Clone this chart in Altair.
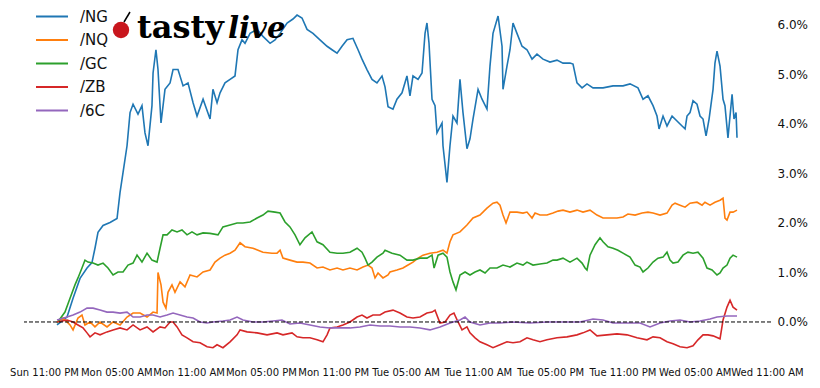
import altair as alt
import pandas as pd

series_names = ["/NG", "/NQ", "/GC", "/ZB", "/6C"]
series_colors = ["#1f77b4", "#ff7f0e", "#2ca02c", "#d62728", "#9467bd"]

# hours since Sun 11:00 PM, percent change
ng_h = [1.08,1.91,2.41,2.99,3.57,3.98,4.23,4.48,4.90,5.48,6.06,6.31,6.56,6.89,7.14,7.39,7.80,8.13,8.38,8.63,8.96,9.05,9.29,9.46,9.71,10.04,10.46,10.71,11.12,11.54,11.95,12.37,12.70,13.20,13.78,14.02,14.36,14.61,15.02,15.44,15.85,16.10,16.43,16.68,17.10,17.68,18.17,18.76,19.17,19.59,20.17,20.66,21.00,21.41,21.83,22.32,22.90,23.49,23.90,24.32,24.73,25.15,25.64,26.06,26.39,26.80,27.22,27.63,28.05,28.30,28.55,28.96,29.29,29.71,30.12,30.37,30.62,31.04,31.37,31.62,31.78,31.95,32.20,32.45,32.61,33.03,33.11,33.44,33.69,33.94,34.27,34.52,34.77,35.10,35.35,35.60,36.02,36.35,36.76,37.01,37.26,37.68,38.01,38.09,38.42,38.67,38.92,39.25,39.67,40.08,40.50,40.91,41.41,41.99,42.57,43.07,43.65,43.90,44.23,44.65,45.06,45.56,46.39,47.22,48.05,48.63,49.29,49.71,50.12,50.54,50.87,51.04,51.37,51.70,52.12,52.53,52.95,53.20,53.36,53.61,53.86,54.19,54.44,54.69,54.94,55.19,55.52,55.68,55.85,56.10,56.35,56.51,56.76,57.10,57.26,57.43,57.51]
ng_v = [-0.06,0.1,0.48,0.88,1.09,1.2,1.49,1.81,1.95,2.01,2.09,2.62,3.02,3.56,4.23,4.4,4.2,4.37,3.82,3.56,4.37,5.03,5.5,5.1,4.02,4.7,4.83,5.1,5.1,4.77,4.83,4.43,4.16,4.5,4.1,4.7,4.43,4.63,4.83,4.9,4.97,5.5,5.7,5.63,5.83,5.91,5.77,5.63,5.7,5.83,6.04,6.12,6.2,6.14,5.91,5.83,5.7,5.57,5.5,5.43,5.57,5.7,5.73,5.5,5.31,5.1,4.9,4.83,4.97,4.75,4.35,4.3,4.5,4.63,4.97,4.57,4.97,4.9,5.03,5.83,6.04,5.63,4.5,4.37,3.82,4.02,3.56,2.82,3.56,4.16,4.02,4.9,4.23,3.5,3.7,4.1,4.7,4.5,4.3,5.17,5.83,6.18,5.57,4.7,5.17,5.5,6.04,5.83,5.57,5.5,5.31,5.41,5.31,5.25,5.29,5.23,5.23,5.21,4.83,4.73,4.81,4.73,4.73,4.77,4.77,4.81,4.73,4.5,4.57,4.37,4.16,3.9,4.16,3.96,4.16,4.06,3.96,3.9,4.16,4.23,4.47,4.4,4.16,4.1,3.76,4.1,4.7,5.23,5.47,5.17,4.5,4.37,3.72,4.6,4.1,4.23,3.72]

nq_h = [1.08,1.58,2.16,2.41,2.82,3.15,3.40,3.82,4.23,4.65,5.23,5.73,6.31,6.89,7.39,7.97,8.55,9.05,9.38,9.46,9.71,9.88,10.12,10.29,10.62,10.87,11.29,11.70,12.12,12.70,13.20,13.78,14.19,14.61,15.02,15.44,15.85,16.27,16.68,17.34,18.17,18.92,19.34,19.59,19.83,20.41,21.00,21.49,22.07,22.66,23.15,23.73,24.32,24.81,25.39,25.98,26.47,26.89,27.22,27.47,27.72,28.13,28.55,28.71,29.29,29.79,30.21,30.62,31.04,31.45,32.03,32.61,33.11,33.44,33.69,33.94,34.52,35.10,35.60,36.18,36.76,37.26,37.59,37.84,38.09,38.34,38.67,39.25,39.75,40.08,40.50,40.75,41.16,41.74,42.24,42.66,43.07,43.65,44.23,44.73,45.31,45.89,46.39,46.97,47.55,48.05,48.46,49.05,49.63,50.12,50.54,51.12,51.70,52.12,52.37,52.78,53.20,53.61,54.19,54.61,54.85,55.27,55.68,56.10,56.35,56.51,56.68,56.93,57.18,57.51]
nq_v = [0,0.08,-0.06,-0.16,0.08,0.14,-0.06,0,-0.1,0,-0.1,0,-0.06,0.1,0.18,0.18,0.1,0.2,0.18,1.0,0.75,0.4,0.28,0.6,0.75,0.6,0.81,0.71,0.95,0.91,1.01,1.05,1.21,1.29,1.35,1.39,1.45,1.6,1.52,1.49,1.41,1.39,1.39,1.45,1.29,1.25,1.21,1.21,1.19,1.09,1.11,1.05,1.09,1.05,1.09,1.05,1.11,1.15,1.09,0.89,0.99,0.89,0.95,1.01,1.05,1.09,1.15,1.21,1.29,1.35,1.39,1.41,1.45,1.39,1.62,1.76,1.82,1.96,2.1,2.16,2.3,2.4,2.42,2.36,2.16,2.0,2.22,2.22,2.2,2.22,2.1,2.2,2.16,2.16,2.2,2.24,2.26,2.22,2.26,2.22,2.26,2.16,2.1,2.1,2.1,2.12,2.18,2.16,2.2,2.22,2.2,2.16,2.2,2.36,2.4,2.36,2.32,2.4,2.42,2.36,2.42,2.36,2.42,2.46,2.5,2.1,2.06,2.22,2.22,2.26]

gc_h = [1.08,1.74,2.16,2.57,2.82,3.15,3.40,3.65,4.07,4.48,4.90,5.31,5.73,6.14,6.56,6.97,7.39,7.72,8.13,8.55,8.96,9.38,9.63,9.88,10.21,10.62,11.04,11.45,11.87,12.28,12.70,13.20,13.78,14.44,14.85,15.44,16.02,16.51,17.10,17.68,18.17,18.59,19.17,19.59,20.00,20.41,20.83,21.24,21.66,22.24,22.66,23.15,23.73,24.32,24.81,25.39,25.98,26.39,26.64,26.89,27.22,27.63,28.13,28.30,28.88,29.54,30.12,30.62,31.20,31.78,32.20,32.37,32.70,33.11,33.44,33.69,33.94,34.19,34.52,34.94,35.35,35.77,36.18,36.60,37.01,37.59,38.09,38.67,39.25,39.75,40.08,40.58,41.16,41.74,42.24,42.57,43.07,43.65,44.23,44.65,44.90,45.06,45.31,45.73,46.14,46.39,46.80,47.22,47.63,48.05,48.63,49.05,49.46,49.71,50.12,50.54,50.95,51.37,51.70,51.95,52.20,52.61,53.03,53.44,53.86,54.27,54.69,55.02,55.44,55.85,56.10,56.35,56.68,56.93,57.18,57.51]
gc_v = [-0.02,0.2,0.48,0.75,0.89,1.09,1.25,1.21,1.19,1.15,1.19,1.09,0.95,1.01,1.01,1.15,1.19,1.35,1.21,1.39,1.25,1.21,1.49,1.76,1.76,1.86,1.82,1.86,1.76,1.82,1.76,1.8,1.79,1.76,1.92,1.96,2.0,2.0,2.02,2.1,2.16,2.24,2.22,2.2,2.02,1.92,1.76,1.56,1.7,1.82,1.62,1.56,1.41,1.39,1.39,1.41,1.49,1.41,1.29,1.15,1.21,1.31,1.39,1.45,1.39,1.35,1.25,1.25,1.29,1.29,1.35,1.09,1.35,1.39,1.31,1.01,0.81,0.65,0.95,1.01,0.95,1.01,1.05,0.99,1.09,1.09,1.15,1.11,1.19,1.15,1.21,1.15,1.17,1.19,1.25,1.25,1.29,1.21,1.29,1.19,1.09,1.05,1.35,1.56,1.7,1.62,1.52,1.49,1.45,1.39,1.31,1.15,1.11,1.01,1.09,1.21,1.29,1.31,1.41,1.25,1.19,1.21,1.35,1.41,1.39,1.41,1.29,1.09,1.05,0.95,0.99,1.09,1.15,1.29,1.35,1.31]

zb_h = [1.08,1.91,2.41,2.82,3.24,3.57,3.82,4.23,4.65,5.23,5.73,6.31,6.89,7.39,7.97,8.55,9.05,9.63,10.04,10.46,10.71,11.04,11.45,11.87,12.37,12.95,13.53,14.02,14.36,14.85,15.44,16.02,16.27,16.85,17.68,18.51,19.34,19.83,20.58,21.00,21.49,22.07,22.66,23.15,23.49,23.73,24.32,24.81,25.39,25.98,26.39,26.80,27.30,27.88,28.30,28.96,29.54,30.12,30.62,31.20,31.78,32.20,32.45,32.86,33.28,33.69,34.02,34.36,34.69,35.10,35.35,35.77,36.18,36.76,37.26,37.84,38.42,38.92,39.50,40.08,40.58,41.16,41.74,42.57,43.40,44.23,44.73,45.31,45.89,46.72,47.55,48.38,49.21,50.04,50.54,51.12,51.70,52.20,52.78,53.36,53.86,54.27,54.69,55.10,55.52,56.10,56.35,56.68,56.93,57.18,57.51]
zb_v = [0,0.04,0,-0.06,-0.12,-0.22,-0.3,-0.22,-0.26,-0.2,-0.16,-0.12,-0.16,-0.06,-0.16,-0.1,-0.2,-0.1,-0.12,0,0,-0.1,-0.26,-0.32,-0.4,-0.42,-0.5,-0.52,-0.46,-0.52,-0.4,-0.26,-0.16,-0.2,-0.22,-0.26,-0.22,-0.26,-0.22,-0.3,-0.32,-0.32,-0.36,-0.4,-0.26,-0.12,-0.1,-0.06,0,0.1,0.14,0.08,0.14,0.14,0.2,0.24,0.18,0.1,0.08,0.1,0.18,0.2,0.24,-0.02,0,0.14,0.18,0,-0.16,-0.1,-0.22,-0.32,-0.4,-0.46,-0.52,-0.46,-0.4,-0.42,-0.4,-0.32,-0.36,-0.4,-0.36,-0.32,-0.3,-0.26,-0.22,-0.16,-0.28,-0.26,-0.24,-0.26,-0.32,-0.36,-0.3,-0.32,-0.4,-0.44,-0.5,-0.52,-0.48,-0.36,-0.26,-0.26,-0.28,-0.34,0.04,0.3,0.44,0.3,0.24]

cad_h = [1.08,1.91,2.41,2.99,3.57,4.07,4.65,5.23,5.73,6.31,6.89,7.39,7.97,8.55,9.05,9.63,10.21,10.71,11.29,11.87,12.37,12.95,13.53,14.02,14.85,15.44,16.02,16.51,17.34,18.17,19.00,19.75,20.41,21.24,22.07,22.90,23.73,24.56,25.39,26.22,27.05,27.88,28.71,29.54,30.37,31.20,32.03,32.86,33.69,34.52,34.94,35.35,36.18,37.01,37.84,38.92,40.33,41.74,43.07,44.48,45.56,46.39,47.22,48.38,49.46,50.29,51.12,51.95,52.78,53.61,54.44,55.27,55.85,56.68,57.51]
cad_v = [0.04,0.1,0.14,0.2,0.28,0.28,0.24,0.2,0.2,0.18,0.2,0.1,0.1,0.14,0.14,0.1,0.14,0.18,0.14,0.1,0.08,0,-0.02,0,0.02,0.04,0.1,0.04,0,0,0.02,0.04,-0.04,-0.02,-0.06,-0.1,-0.12,-0.12,-0.12,-0.1,-0.06,-0.08,-0.08,-0.1,-0.1,-0.12,-0.16,-0.1,-0.02,0.04,0.1,0,-0.06,-0.02,-0.02,0,-0.02,0,0,0,0.06,0.04,-0.02,-0.02,-0.02,-0.1,-0.02,0.02,0.04,0,0.02,0.06,0.1,0.12,0.12]

x_ticks_h = [0, 6, 12, 18, 24, 30, 36, 42, 48, 54, 60]
y_ticks = [0, 1, 2, 3, 4, 5, 6]

base = pd.Timestamp("2024-01-07 23:00:00")

frames = []
for name, hs, vs in [("/NG", ng_h, ng_v), ("/NQ", nq_h, nq_v), ("/GC", gc_h, gc_v),
                     ("/ZB", zb_h, zb_v), ("/6C", cad_h, cad_v)]:
    frames.append(pd.DataFrame({
        "series": name,
        "time": [(base + pd.Timedelta(hours=h)).strftime("%Y-%m-%dT%H:%M:%S") for h in hs],
        "pct": vs,
    }))
df = pd.concat(frames, ignore_index=True)


def dt(h):
    t = base + pd.Timedelta(hours=h)
    return alt.DateTime(year=t.year, month=t.month, date=t.day, hours=t.hour,
                        minutes=t.minute, seconds=t.second)


x_scale = alt.Scale(domain=[dt(-1.66), dt(60.33)])
y_scale = alt.Scale(domain=[-0.768, 6.343], nice=False, zero=False)

lines = alt.Chart(df).mark_line(strokeWidth=1.6, clip=False).encode(
    x=alt.X("time:T", scale=x_scale, title=None,
            axis=alt.Axis(values=[dt(h) for h in x_ticks_h], format="%a %I:%M %p",
                          labelFontSize=10, labelPadding=7, labelOverlap=False,
                          labelFlush=False)),
    y=alt.Y("pct:Q", scale=y_scale, title=None,
            axis=alt.Axis(orient="right", values=y_ticks,
                          labelExpr="format(datum.value, '.1f') + '%'",
                          labelFontSize=12, labelPadding=6)),
    color=alt.Color("series:N", sort=series_names,
                    scale=alt.Scale(domain=series_names, range=series_colors),
                    legend=alt.Legend(title=None, orient="none", legendX=11, legendY=1,
                                      symbolType="stroke", symbolSize=1024,
                                      symbolStrokeWidth=2, labelFontSize=15,
                                      labelOffset=11, rowPadding=7.5, clipHeight=15,
                                      padding=0, labelFont="DejaVu Sans",
                                      labelColor="#111")),
    order=alt.Order("series_order:Q"),
).transform_calculate(
    series_order="indexof(['/NG','/NQ','/GC','/ZB','/6C'], datum.series)"
)

zero = alt.Chart(pd.DataFrame({"z": [0]})).mark_rule(
    color="black", strokeWidth=1, strokeDash=[4, 2]).encode(y=alt.Y("z:Q", scale=y_scale))

one = pd.DataFrame({"a": [0]})
cherry = alt.Chart(one).mark_point(filled=True, shape="circle", size=270,
                                   color="#c8161d", opacity=1).encode(
    x=alt.value(97), y=alt.value(22))
stem = alt.Chart(one).mark_rule(color="black", strokeWidth=1.5).encode(
    x=alt.value(100), y=alt.value(14), x2=alt.value(106), y2=alt.value(4))
tasty = alt.Chart(one).mark_text(text="tasty", font="DejaVu Serif", fontWeight="bold",
                                 fontSize=32, align="left", baseline="alphabetic",
                                 color="black").encode(x=alt.value(113), y=alt.value(30))
live = alt.Chart(one).mark_text(text="live", font="DejaVu Serif", fontWeight="bold",
                                fontStyle="italic", fontSize=29, align="left",
                                baseline="alphabetic", color="black").encode(
    x=alt.value(204), y=alt.value(30))

chart = alt.layer(lines, zero, cherry, stem, tasty, live).properties(
    width=747, height=352,
    padding={"left": 16, "top": 0, "right": 41, "bottom": 20},
    autosize="none",
).configure_view(stroke=None).configure_axis(
    grid=False, domain=False, ticks=False, labelFont="DejaVu Sans", labelColor="#111"
)

chart.save("out.html", embed_options={"renderer": "svg", "actions": False})
